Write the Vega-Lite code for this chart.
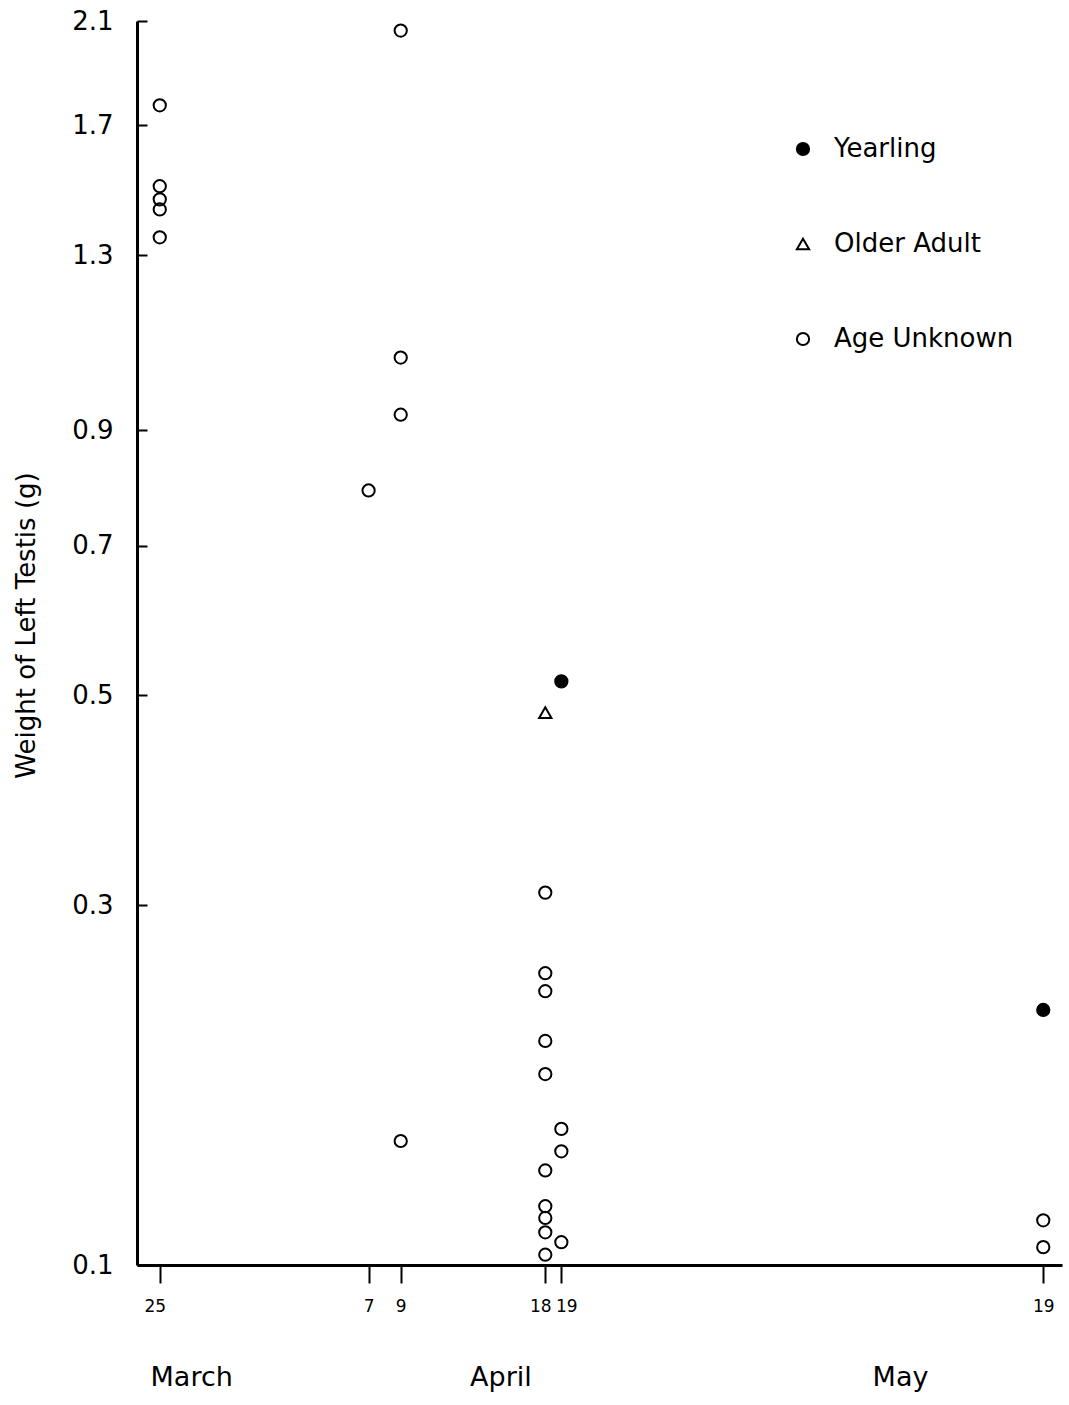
{
  "$schema": "https://vega.github.io/schema/vega-lite/v6.json",
  "width": 925,
  "height": 1244,
  "autosize": {"type": "none"},
  "padding": {"left": 137, "top": 21, "right": 7, "bottom": 140},
  "background": "white",
  "config": {"view": {"stroke": null}, "font": "DejaVu Sans"},
  "data": {
    "values": [
      {"date": "2000-03-25", "weight": 1.77, "age": "Age Unknown"},
      {"date": "2000-03-25", "weight": 1.50, "age": "Age Unknown"},
      {"date": "2000-03-25", "weight": 1.46, "age": "Age Unknown"},
      {"date": "2000-03-25", "weight": 1.43, "age": "Age Unknown"},
      {"date": "2000-03-25", "weight": 1.35, "age": "Age Unknown"},
      {"date": "2000-04-07", "weight": 0.79, "age": "Age Unknown"},
      {"date": "2000-04-09", "weight": 2.06, "age": "Age Unknown"},
      {"date": "2000-04-09", "weight": 1.05, "age": "Age Unknown"},
      {"date": "2000-04-09", "weight": 0.93, "age": "Age Unknown"},
      {"date": "2000-04-09", "weight": 0.154, "age": "Age Unknown"},
      {"date": "2000-04-18", "weight": 0.31, "age": "Age Unknown"},
      {"date": "2000-04-18", "weight": 0.251, "age": "Age Unknown"},
      {"date": "2000-04-18", "weight": 0.239, "age": "Age Unknown"},
      {"date": "2000-04-18", "weight": 0.208, "age": "Age Unknown"},
      {"date": "2000-04-18", "weight": 0.189, "age": "Age Unknown"},
      {"date": "2000-04-18", "weight": 0.140, "age": "Age Unknown"},
      {"date": "2000-04-18", "weight": 0.124, "age": "Age Unknown"},
      {"date": "2000-04-18", "weight": 0.119, "age": "Age Unknown"},
      {"date": "2000-04-18", "weight": 0.113, "age": "Age Unknown"},
      {"date": "2000-04-18", "weight": 0.104, "age": "Age Unknown"},
      {"date": "2000-04-19", "weight": 0.160, "age": "Age Unknown"},
      {"date": "2000-04-19", "weight": 0.149, "age": "Age Unknown"},
      {"date": "2000-04-19", "weight": 0.109, "age": "Age Unknown"},
      {"date": "2000-05-19", "weight": 0.118, "age": "Age Unknown"},
      {"date": "2000-05-19", "weight": 0.107, "age": "Age Unknown"},
      {"date": "2000-04-18", "weight": 0.48, "age": "Older Adult"},
      {"date": "2000-04-19", "weight": 0.516, "age": "Yearling"},
      {"date": "2000-05-19", "weight": 0.227, "age": "Yearling"}
    ]
  },
  "mark": {"type": "point", "stroke": "black", "strokeWidth": 2, "size": 150, "opacity": 1},
  "encoding": {
    "x": {
      "field": "date",
      "type": "temporal",
      "scale": {
        "type": "utc",
        "nice": false,
        "domain": [
          {"year": 2000, "month": 3, "date": 23, "hours": 14, "utc": true},
          {"year": 2000, "month": 5, "date": 20, "hours": 4, "utc": true}
        ]
      },
      "axis": {
        "title": null,
        "grid": false,
        "values": [
          {"year": 2000, "month": 3, "date": 25, "utc": true},
          {"year": 2000, "month": 4, "date": 7, "utc": true},
          {"year": 2000, "month": 4, "date": 9, "utc": true},
          {"year": 2000, "month": 4, "date": 18, "utc": true},
          {"year": 2000, "month": 4, "date": 19, "utc": true},
          {"year": 2000, "month": 5, "date": 19, "utc": true},
          {"year": 2000, "month": 3, "date": 26, "hours": 23, "utc": true},
          {"year": 2000, "month": 4, "date": 15, "hours": 5, "utc": true},
          {"year": 2000, "month": 5, "date": 10, "hours": 2, "utc": true}
        ],
        "labelExpr": "utchours(datum.value) > 0 ? ['', utcFormat(datum.value, '%B')] : utcFormat(datum.value, '%-d')",
        "labelFontSize": {"condition": {"test": "utchours(datum.value) > 0", "value": 27}, "value": 17},
        "tickOpacity": {"condition": {"test": "utchours(datum.value) > 0", "value": 0}, "value": 1},
        "labelOffset": {
          "condition": [
            {"test": "utchours(datum.value) == 0 && utcmonth(datum.value) == 3 && utcdate(datum.value) == 18", "value": -5},
            {"test": "utchours(datum.value) == 0 && utcmonth(datum.value) == 3 && utcdate(datum.value) == 19", "value": 5},
            {"test": "utchours(datum.value) == 0 && utcmonth(datum.value) == 2", "value": -5}
          ],
          "value": 0
        },
        "tickSize": 18,
        "tickWidth": 2,
        "tickColor": "black",
        "domainColor": "black",
        "domainWidth": 3,
        "labelPadding": 15,
        "labelColor": "black",
        "labelOverlap": false,
        "labelFlush": false,
        "labelBound": false,
        "labelLineHeight": 66,
        "labelAngle": 0,
        "labelBaseline": "top"
      }
    },
    "y": {
      "field": "weight",
      "type": "quantitative",
      "scale": {"type": "symlog", "constant": 0.1, "domain": [0.1, 2.1], "zero": false, "nice": false},
      "axis": {
        "title": "Weight of Left Testis (g)",
        "grid": false,
        "values": [0.1, 0.3, 0.5, 0.7, 0.9, 1.3, 1.7, 2.1],
        "format": ".1f",
        "tickSize": -10,
        "tickWidth": 2,
        "tickColor": "black",
        "domainColor": "black",
        "domainWidth": 3,
        "labelFontSize": 26,
        "labelPadding": 34,
        "labelColor": "black",
        "labelOverlap": false,
        "labelFlush": false,
        "titleFontSize": 26,
        "titleFontWeight": "normal",
        "titleColor": "black",
        "titleX": -98,
        "titleY": 604,
        "titleAngle": 270,
        "titleBaseline": "bottom",
        "titleAlign": "center"
      }
    },
    "shape": {
      "field": "age",
      "type": "nominal",
      "scale": {"domain": ["Yearling", "Older Adult", "Age Unknown"], "range": ["circle", "triangle-up", "circle"]},
      "legend": {"title": null, "orient": "none", "legendX": 653, "legendY": 115, "labelFontSize": 26, "labelColor": "black", "labelLimit": 400, "symbolSize": 150, "symbolStrokeWidth": 2, "rowPadding": 69, "labelOffset": 18, "padding": 0}
    },
    "fill": {
      "field": "age",
      "type": "nominal",
      "scale": {"domain": ["Yearling", "Older Adult", "Age Unknown"], "range": ["black", "transparent", "transparent"]},
      "legend": {"title": null, "orient": "none", "legendX": 653, "legendY": 115, "labelFontSize": 26, "labelColor": "black", "labelLimit": 400, "symbolSize": 150, "symbolStrokeWidth": 2, "rowPadding": 69, "labelOffset": 18, "padding": 0}
    },
    "stroke": {
      "field": "age",
      "type": "nominal",
      "scale": {"domain": ["Yearling", "Older Adult", "Age Unknown"], "range": ["black", "black", "black"]},
      "legend": {"title": null, "orient": "none", "legendX": 653, "legendY": 115, "labelFontSize": 26, "labelColor": "black", "labelLimit": 400, "symbolSize": 150, "symbolStrokeWidth": 2, "rowPadding": 69, "labelOffset": 18, "padding": 0}
    }
  }
}
